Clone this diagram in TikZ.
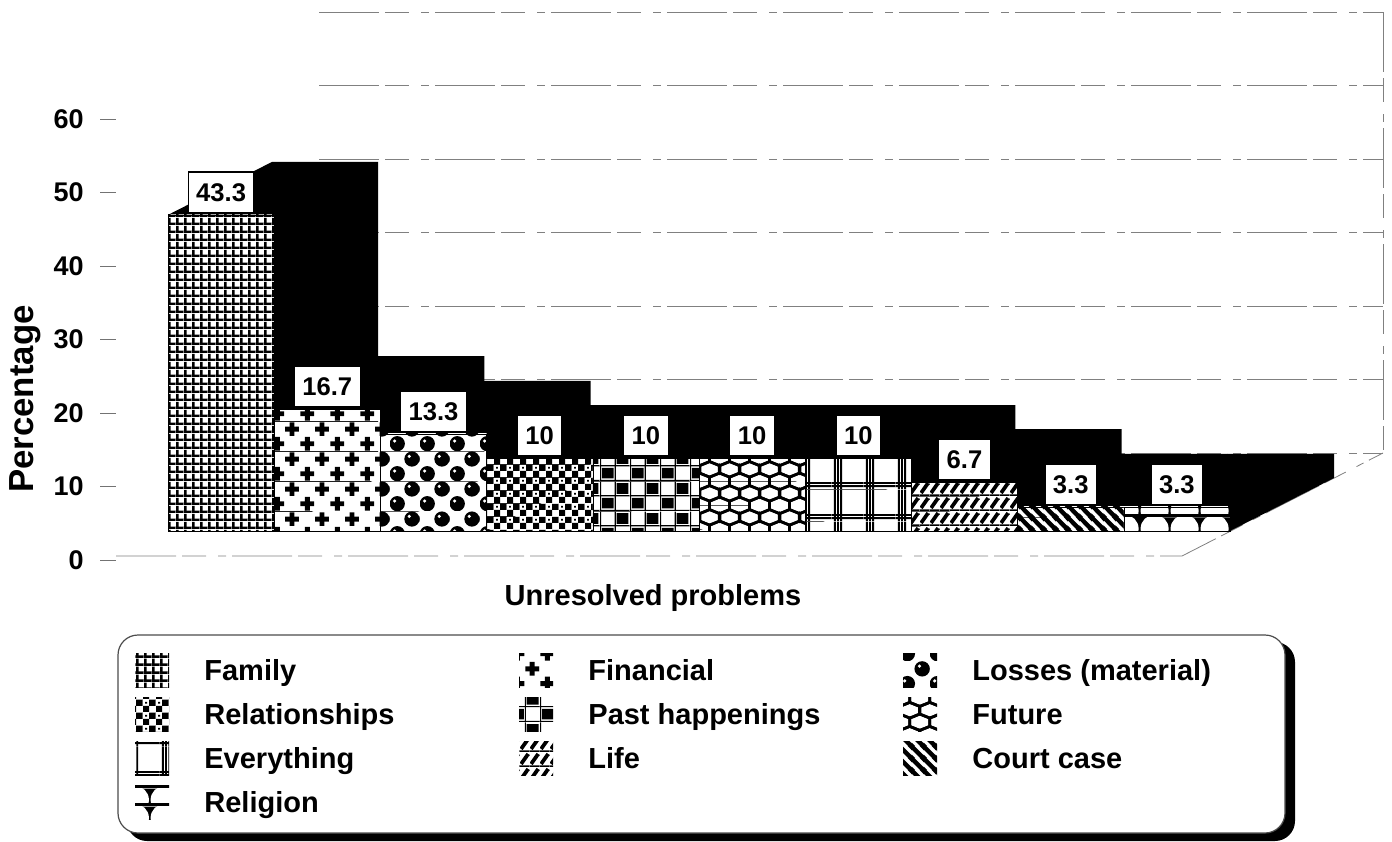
\documentclass[tikz,border=0pt]{standalone}
\usepackage{fontspec}
\setmainfont{Liberation Sans}
\usetikzlibrary{patterns.meta}

% fill patterns of the bars (1px = 0.5pt)
\tikzdeclarepattern{name=famgrid, type=colored,
  bottom left={(0pt,0pt)}, top right={(4pt,4pt)}, tile size={(4pt,4pt)},
  code={\fill[white] (0pt,0pt) rectangle (4pt,4pt);
        \fill[black] (0pt,0pt) rectangle (1.4pt,4pt);
        \fill[black] (0pt,0pt) rectangle (4pt,1.4pt);}}
\tikzdeclarepattern{name=plusdots, type=colored,
  bottom left={(0pt,0pt)}, top right={(15pt,15pt)}, tile size={(15pt,15pt)},
  code={\fill[white] (0pt,0pt) rectangle (15pt,15pt);
        \fill[black] (0.25pt,2.5pt) rectangle (7.25pt,5pt);
        \fill[black] (2.5pt,0.25pt) rectangle (5pt,7.25pt);
        \fill[black] (7.75pt,10pt) rectangle (14.75pt,12.5pt);
        \fill[black] (10pt,7.75pt) rectangle (12.5pt,14.75pt);}}
\tikzdeclarepattern{name=balls, type=colored,
  bottom left={(0pt,0pt)}, top right={(15pt,15pt)}, tile size={(15pt,15pt)},
  code={\fill[white] (0pt,0pt) rectangle (15pt,15pt);
        \fill[black] (3.75pt,3.75pt) circle (3.9pt);
        \fill[black] (11.25pt,11.25pt) circle (3.9pt);
        \fill[white] (2.4pt,5.1pt) circle (0.9pt);
        \fill[white] (9.9pt,12.6pt) circle (0.9pt);}}
\tikzdeclarepattern{name=checker, type=colored,
  bottom left={(0pt,0pt)}, top right={(6.5pt,6.5pt)}, tile size={(6.5pt,6.5pt)},
  code={\fill[white] (0pt,0pt) rectangle (6.5pt,6.5pt);
        \fill[black] (0pt,0pt) rectangle (3.25pt,3.25pt);
        \fill[black] (3.25pt,3.25pt) rectangle (6.5pt,6.5pt);
        \fill[black] (1.1pt,4.4pt) rectangle (2.1pt,5.4pt);}}
\tikzdeclarepattern{name=pastcheck, type=colored,
  bottom left={(0pt,0pt)}, top right={(15pt,15pt)}, tile size={(15pt,15pt)},
  code={\fill[white] (0pt,0pt) rectangle (15pt,15pt);
        \fill[black] (0pt,0pt) rectangle (15pt,0.6pt);
        \fill[black] (0pt,7.5pt) rectangle (15pt,8.1pt);
        \fill[black] (0pt,0pt) rectangle (0.6pt,15pt);
        \fill[black] (7.5pt,0pt) rectangle (8.1pt,15pt);
        \fill[black] (1pt,1.3pt) rectangle (7pt,6.7pt);
        \fill[black] (8.5pt,8.8pt) rectangle (14.5pt,14.2pt);}}
\tikzdeclarepattern{name=honeycomb, type=colored,
  bottom left={(0pt,0pt)}, top right={(10pt,12pt)}, tile size={(10pt,12pt)},
  code={\fill[white] (0pt,0pt) rectangle (10pt,12pt);
        \foreach \c in {(0pt,0pt),(10pt,0pt),(0pt,12pt),(10pt,12pt),(5pt,6pt)}
          \draw[black, line width=1.4pt, line join=round] \c ++(0pt,4pt) -- ++(5pt,-2pt)
            -- ++(0pt,-4pt) -- ++(-5pt,-2pt) -- ++(-5pt,2pt) -- ++(0pt,4pt) -- cycle;}}
\tikzdeclarepattern{name=plaid, type=colored,
  bottom left={(0pt,0pt)}, top right={(16pt,16pt)}, tile size={(16pt,16pt)},
  code={\fill[white] (0pt,0pt) rectangle (16pt,16pt);
        \foreach \p in {1.0,2.6,4.2}
          \fill[black] (\p pt,0pt) rectangle ++(0.95pt,16pt);
        \foreach \p in {1.0,2.6}
          \fill[black] (0pt,\p pt) rectangle ++(16pt,0.95pt);}}
\tikzdeclarepattern{name=lifehatch, type=colored,
  bottom left={(0pt,0pt)}, top right={(5pt,7.5pt)}, tile size={(5pt,7.5pt)},
  code={\fill[white] (0pt,0pt) rectangle (5pt,7.5pt);
        \fill[black] (0pt,0pt) rectangle (5pt,0.8pt);
        \draw[black, line width=2pt] (0.6pt,1.6pt) -- (4.4pt,6.8pt);}}
\tikzdeclarepattern{name=courtlines, type=colored,
  bottom left={(0pt,0pt)}, top right={(6pt,6pt)}, tile size={(6pt,6pt)},
  code={\fill[white] (0pt,0pt) rectangle (6pt,6pt);
        \draw[black, line width=2.3pt] (-1pt,7pt) -- (7pt,-1pt);
        \draw[black, line width=2.3pt] (-1pt,1pt) -- (1pt,-1pt);
        \draw[black, line width=2.3pt] (5pt,7pt) -- (7pt,5pt);}}
\tikzdeclarepattern{name=domes, type=colored,
  bottom left={(0pt,0pt)}, top right={(15pt,9pt)}, tile size={(15pt,9pt)},
  code={\fill[black] (0pt,0pt) rectangle (15pt,9pt);
        \fill[white] (7.5pt,3.2pt) circle (7.2pt);
        \fill[black] (0pt,0pt) rectangle (15pt,1.5pt);}}

\begin{document}
\begin{tikzpicture}[x=0.5pt, y=-0.5pt, font=\bfseries,
    gridline/.style={black!50, line width=0.4pt, dash pattern=on 30pt off 3pt on 12pt off 6pt on 4pt off 3pt},
    barfront/.style={draw=black, line width=0.3pt},
    vallabel/.style={draw=black, line width=0.6pt, fill=white, inner xsep=4pt, inner ysep=5.5pt,
      text height=9.2pt, text depth=0pt, font=\bfseries\fontsize{12.8}{15}\selectfont},
    axisnum/.style={inner sep=0pt, font=\bfseries\fontsize{13.5}{16}\selectfont},
    axistitle/.style={inner sep=0pt, font=\bfseries\fontsize{14.5}{17}\selectfont},
    legicon/.style={minimum width=17pt, minimum height=17pt, inner sep=0pt},
    legtext/.style={inner sep=0pt, font=\bfseries\fontsize{14.5}{17}\selectfont}]
    \useasboundingbox (0,0) rectangle (1392,841);

    % walls and floor
    \foreach \k in {0,...,6}
        \draw[gridline] (319,453-73.5*\k) -- (1383,453-73.5*\k);
    \draw[gridline] (1383,12) -- (1383,453);
    \draw[gridline] (116,556) -- (1182,556) -- (1383,453);

    % value axis
    \foreach \val in {0,10,...,60}{
        \draw[black!55, line width=0.5pt] (100,560-7.35*\val) -- (116,560-7.35*\val);
        \node[axisnum, anchor=east] (num\val) at (84,560-7.35*\val) {\val};
    }
    \node[inner sep=0pt, rotate=90, anchor=base, font=\bfseries\fontsize{17.4}{20}\selectfont] (ytitle) at (33,399) {Percentage};
    \node[axistitle, anchor=base] (xtitle) at (653,605) {Unresolved problems};

    % bars: black top and side, patterned front, value box
    \foreach \val/\pat [count=\i from 0] in {43.3/famgrid,16.7/plusdots,13.3/balls,10/checker,10/pastcheck,10/honeycomb,10/plaid,6.7/lifehatch,3.3/courtlines,3.3/domes}{
        \pgfmathsetmacro\xl{168+106.2*\i}
        \pgfmathsetmacro\xr{\xl+106.2}
        \pgfmathsetmacro\yt{531-7.3*\val}
        \fill[black] (\xl,\yt) -- ++(104,-53) -- (\xr+104,\yt-53) -- (\xr+104,478) -- (\xr,531) -- (\xr,\yt) -- cycle;
        \draw[barfront, pattern=\pat] (\xl,531) rectangle (\xr,\yt);
        \node[vallabel, anchor=south] (val\i) at (\xl+53.1,\yt-2) {\val};
    }

    % legend
    \fill[black, rounded corners=10pt] (127,642) rectangle (1295,841);
    \draw[black!70, line width=0.6pt, fill=white, rounded corners=10pt] (118,635) rectangle (1285,833);
    \foreach \lbl/\pat [count=\k from 0] in {Family/famgrid,Financial/plusdots,Losses (material)/balls,Relationships/checker,Past happenings/pastcheck,Future/honeycomb,Everything/plaid,Life/lifehatch,Court case/courtlines,Religion/domes}{
        \pgfmathsetmacro\lx{135+384*mod(\k,3)}
        \pgfmathsetmacro\ly{670+44*int(\k/3)}
        \node[legicon, pattern=\pat] (icon\k) at (\lx+17,\ly) {};
        \node[legtext, anchor=base west] (leg\k) at (\lx+69,\ly+10) {\lbl};
    }
\end{tikzpicture}
\end{document}
